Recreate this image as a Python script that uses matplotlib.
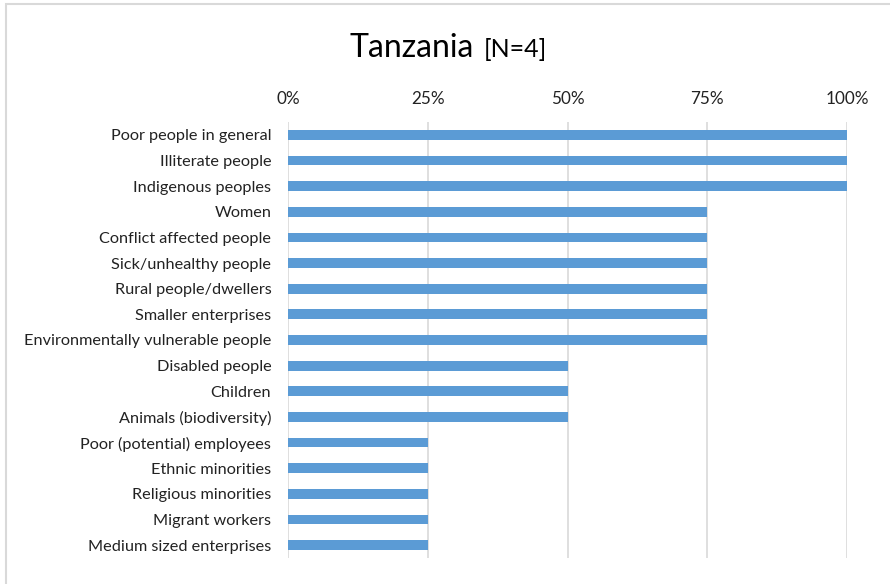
import matplotlib.pyplot as plt
from matplotlib.patches import Rectangle

plt.rcParams['font.family'] = ['Lato', 'DejaVu Sans']

groups = ['Poor people in general', 'Illiterate people', 'Indigenous peoples',
          'Women', 'Conflict affected people', 'Sick/unhealthy people',
          'Rural people/dwellers', 'Smaller enterprises',
          'Environmentally vulnerable people', 'Disabled people', 'Children',
          'Animals (biodiversity)', 'Poor (potential) employees',
          'Ethnic minorities', 'Religious minorities', 'Migrant workers',
          'Medium sized enterprises']
share = [100, 100, 100, 75, 75, 75, 75, 75, 75, 50, 50, 50, 25, 25, 25, 25, 25]
ticks = [0, 25, 50, 75, 100]

fig = plt.figure(figsize=(8.9, 5.84), dpi=100)
ax = fig.add_axes([288 / 890, 1 - 558 / 584, (847 - 288) / 890, 436 / 584])

pos = range(len(groups))
ax.barh(pos, share, height=0.38, color='#5B9BD5', zorder=3)
ax.set_ylim(len(groups) - 0.5, -0.5)
ax.set_xlim(0, 100)
ax.set_yticks(list(pos))
ax.set_yticklabels(groups, fontsize=11.7, color='#222222')
ax.set_xticks(ticks)
ax.set_xticklabels([f'{t}%' for t in ticks], fontsize=12.3, color='#222222')
ax.xaxis.tick_top()
ax.tick_params(axis='both', length=0)
ax.tick_params(axis='x', pad=11)
ax.tick_params(axis='y', pad=12)
ax.grid(axis='x', color='#D9D9D9', linewidth=1.2, zorder=0)
for s in ax.spines.values():
    s.set_visible(False)

# chart frame
fig.patches.append(Rectangle((6 / 890, -0.1), 2, 1.1 - 4 / 584, transform=fig.transFigure,
                             fill=False, edgecolor='#D9D9D9', linewidth=1.5))

fig.text(474 / 890, 1 - 57 / 584, 'Tanzania', fontsize=23, ha='right', va='baseline')
fig.text(484 / 890, 1 - 57 / 584, '[N=4]', fontsize=18, ha='left', va='baseline')

fig.savefig('out.png', dpi=100)
